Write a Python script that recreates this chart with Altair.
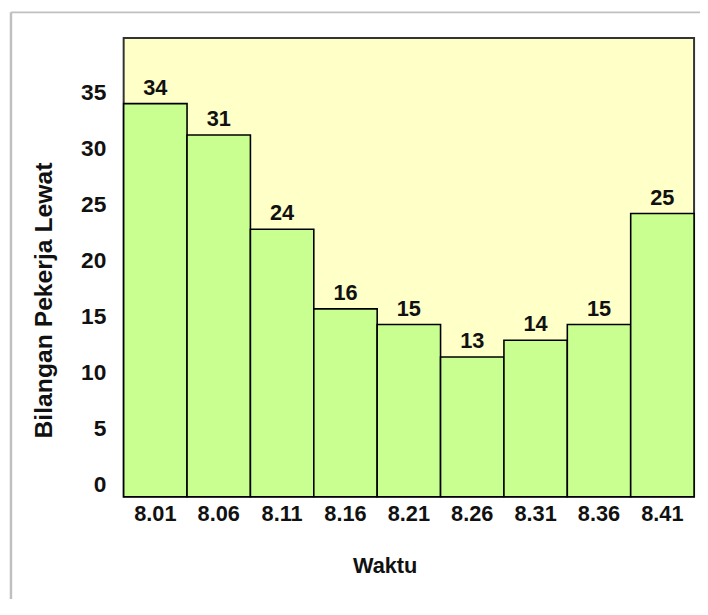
import altair as alt
import pandas as pd

# Data
waktu = ["8.01", "8.06", "8.11", "8.16", "8.21", "8.26", "8.31", "8.36", "8.41"]
label_values = [34, 31, 24, 16, 15, 13, 14, 15, 25]
bar_heights = [34.0, 31.2, 22.8, 15.7, 14.3, 11.4, 12.9, 14.3, 24.2]
y_ticks = [0, 5, 10, 15, 20, 25, 30, 35]
Y_MIN, Y_MAX = -1.06, 39.85

df = pd.DataFrame({"Waktu": waktu, "Tinggi": bar_heights, "Label": [str(v) for v in label_values]})

FONT = "Liberation Sans"

x_enc = alt.X(
    "Waktu:N",
    sort=waktu,
    scale=alt.Scale(paddingInner=0, paddingOuter=0),
    axis=alt.Axis(
        title="Waktu",
        labelAngle=0,
        ticks=False,
        domain=False,
        labelPadding=7,
        labelFont=FONT,
        labelFontSize=22,
        labelFontWeight="bold",
        labelColor="#111111",
        titleFont=FONT,
        titleFontSize=22,
        titleFontWeight="bold",
        titleColor="#111111",
        titleX=264,
        titleY=70,
        titleBaseline="middle",
        titleAlign="center",
    ),
)

y_scale = alt.Scale(domain=[Y_MIN, Y_MAX], nice=False, zero=False)

y_enc = alt.Y(
    "Tinggi:Q",
    scale=y_scale,
    axis=alt.Axis(
        title="Bilangan Pekerja Lewat",
        values=y_ticks,
        grid=False,
        ticks=False,
        domain=False,
        labelPadding=18,
        labelFlush=False,
        labelOverlap=False,
        labelFont=FONT,
        labelFontSize=23,
        labelFontWeight="bold",
        labelColor="#111111",
        labelBaseline="middle",
        titleFont=FONT,
        titleFontSize=25,
        titleFontWeight="bold",
        titleColor="#111111",
        titleX=-81,
        titleY=265,
        titleBaseline="middle",
        titleAlign="center",
        titleAngle=270,
    ),
)

bars = alt.Chart(df).mark_bar(
    fill="#C9FF90", stroke="#000000", strokeWidth=1.6
).encode(
    x=x_enc,
    y=y_enc,
    y2=alt.datum(Y_MIN),
)

labels = alt.Chart(df).mark_text(
    font=FONT, fontSize=22, fontWeight="bold", color="#111111",
    baseline="middle", dy=-16
).encode(
    x=alt.X("Waktu:N", sort=waktu),
    y=alt.Y("Tinggi:Q", scale=y_scale),
    text="Label:N",
)

one = pd.DataFrame({"a": [0]})
top_line = alt.Chart(one).mark_rule(color="#C0C0C0", strokeWidth=2).encode(
    x=alt.value(-114), x2=alt.value(620), y=alt.value(-26)
)
left_line = alt.Chart(one).mark_rule(color="#C0C0C0", strokeWidth=2.5).encode(
    x=alt.value(-114), y=alt.value(-26), y2=alt.value(700)
)

chart = alt.layer(bars, labels, top_line, left_line).properties(
    width=577,
    height=464,
    autosize=alt.AutoSizeParams(type="none"),
    padding={"left": 117, "top": 27, "right": 6, "bottom": 100},
).configure(background="#FFFFFF").configure_view(
    fill="#FFFFC8", stroke="#333333", strokeWidth=2
)

chart.save("out.html", embed_options={"renderer": "svg", "actions": False})
